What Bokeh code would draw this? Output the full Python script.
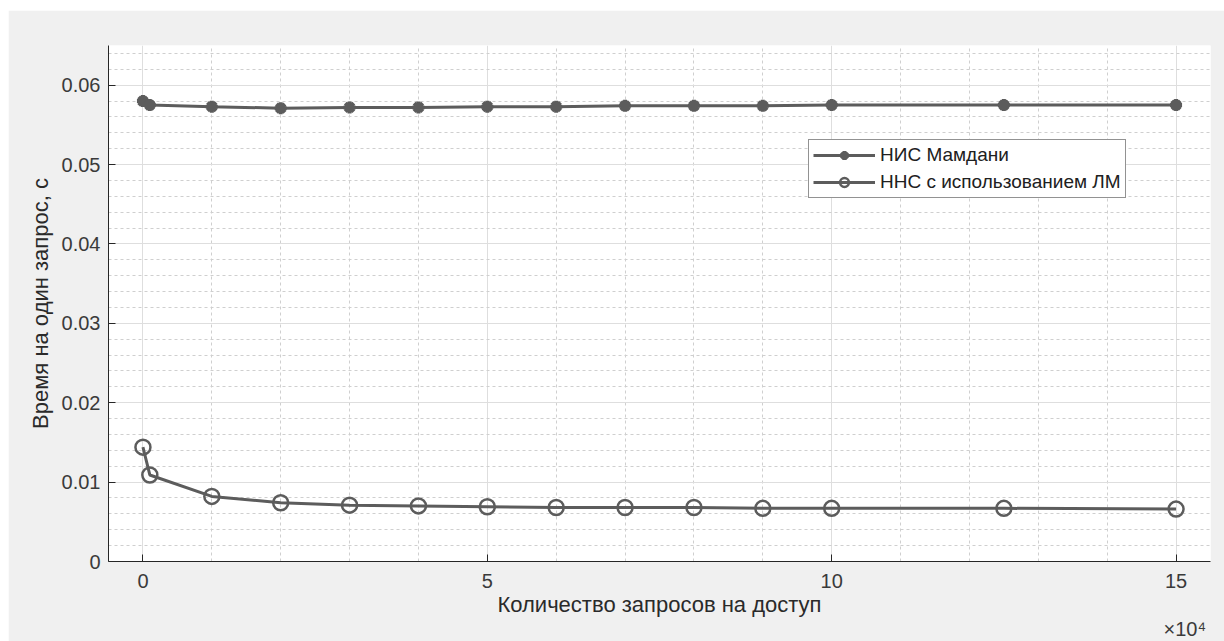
from bokeh.plotting import figure
from bokeh.models import (Range1d, FixedTicker, Legend, LegendItem, Label)
from bokeh.embed import file_html
from bokeh.resources import INLINE

# Data (x in requests, y in seconds)
requests = [0, 1000, 10000, 20000, 30000, 40000, 50000, 60000, 70000, 80000, 90000, 100000, 125000, 150000]
mamdani = [0.0580, 0.0575, 0.0573, 0.0571, 0.0572, 0.0572, 0.0573, 0.0573, 0.0574, 0.0574, 0.0574, 0.0575, 0.0575, 0.0575]
nns_lm = [0.0144, 0.0109, 0.0082, 0.0074, 0.0071, 0.0070, 0.0069, 0.0068, 0.0068, 0.0068, 0.0067, 0.0067, 0.0067, 0.0066]
x_ticks = [0, 5, 10, 15]
y_ticks = [0, 0.01, 0.02, 0.03, 0.04, 0.05, 0.06]
y_tick_labels = ["0", "0.01", "0.02", "0.03", "0.04", "0.05", "0.06"]
series_names = ["НИС Мамдани", "ННС с использованием ЛМ"]
x_label = "Количество запросов на доступ"
y_label = "Время на один запрос, с"
exp_label = "×10⁴"

scale = 1e4
xs = [r / scale for r in requests]

FONT = "Liberation Sans"
AX = "#262626"
TXT = "#3a3a3a"
LINE = "#5c5c5c"

p = figure(width=1216, height=631, output_backend="svg", toolbar_location=None,
           x_range=Range1d(-0.5, 15.5), y_range=Range1d(0, 0.065),
           min_border_left=100, min_border_right=14, min_border_top=35, min_border_bottom=67)
p.margin = (10, 0, 0, 8)
p.background_fill_color = "white"
p.border_fill_color = "#f0f0f0"
p.outline_line_color = None

# axes
for ax in (p.xaxis[0], p.yaxis[0]):
    ax.axis_line_color = AX
    ax.axis_line_width = 1
    ax.major_tick_line_color = AX
    ax.major_tick_in = 7
    ax.major_tick_out = 0
    ax.minor_tick_in = 0
    ax.minor_tick_out = 0
    ax.major_label_text_font = FONT
    ax.major_label_text_font_size = "20px"
    ax.major_label_text_color = TXT
    ax.axis_label_text_font = FONT
    ax.axis_label_text_font_size = "22px"
    ax.axis_label_text_font_style = "normal"
    ax.axis_label_text_color = "#2a2a2a"

p.xaxis.ticker = FixedTicker(ticks=x_ticks, minor_ticks=list(range(0, 16)))
p.yaxis.ticker = FixedTicker(ticks=y_ticks, minor_ticks=[i * 0.002 for i in range(0, 33)])
p.yaxis.major_label_overrides = {t: l for t, l in zip(y_ticks, y_tick_labels)}
p.xaxis.major_label_overrides = {t: str(t) for t in x_ticks}
p.xaxis.axis_label = x_label
p.yaxis.axis_label = y_label
p.xaxis.major_label_standoff = 12
p.xaxis.axis_label_standoff = 1
p.yaxis.major_label_standoff = 8
p.yaxis.axis_label_standoff = 6

# grids
for g in (p.xgrid[0], p.ygrid[0]):
    g.grid_line_color = "#dedede"
    g.grid_line_width = 1
    g.minor_grid_line_color = "#cfcfcf"
    g.minor_grid_line_dash = "3 3"
    g.minor_grid_line_width = 1

# series
l1 = p.line(xs, mamdani, line_color=LINE, line_width=3)
m1 = p.scatter(xs, mamdani, marker="asterisk", size=12, line_color=LINE, line_width=4)
l2 = p.line(xs, nns_lm, line_color=LINE, line_width=3)
m2 = p.scatter(xs, nns_lm, marker="circle", size=15, line_color=LINE, line_width=2.5,
               fill_color=None)

legend = Legend(items=[LegendItem(label=series_names[0], renderers=[l1, m1]),
                       LegendItem(label=series_names[1], renderers=[l2, m2])],
                location=(700, 363))
legend.label_text_font = FONT
legend.label_text_font_size = "19px"
legend.label_text_color = "#202020"
legend.border_line_color = "#262626"
legend.border_line_width = 1
legend.background_fill_color = "white"
legend.background_fill_alpha = 1
legend.glyph_width = 62
legend.glyph_height = 22
legend.label_height = 22
legend.spacing = 5
legend.padding = 4
legend.margin = 0
legend.label_standoff = 5
p.add_layout(legend, "center")

# axis exponent (x10^4), placed in the bottom panel so it is not clipped to the frame
p.add_layout(Label(x=1155, y=618, x_units="canvas", y_units="canvas", text=exp_label,
                   text_font=FONT, text_font_size="20px", text_color=TXT,
                   text_baseline="alphabetic"), "below")

open("out.html", "w").write(file_html(p, INLINE))
